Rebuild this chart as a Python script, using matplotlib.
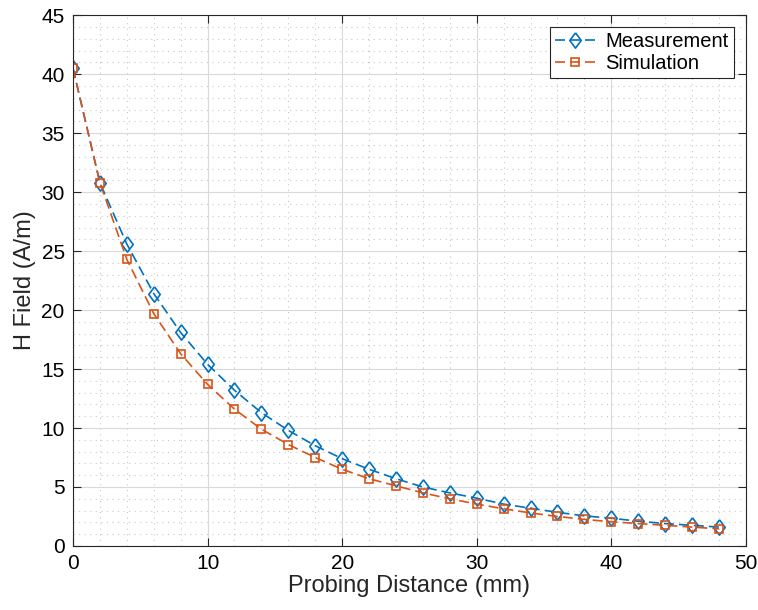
import numpy as np
import matplotlib.pyplot as plt
from matplotlib.ticker import MultipleLocator

plt.rcParams['font.family'] = ['Liberation Sans', 'DejaVu Sans']

distance = [0, 2, 4, 6, 8, 10, 12, 14, 16, 18, 20, 22, 24,
            26, 28, 30, 32, 34, 36, 38, 40, 42, 44, 46, 48]
measurement = [40.5, 30.8, 25.6, 21.4, 18.1, 15.4, 13.2, 11.3, 9.8, 8.5,
               7.4, 6.5, 5.7, 5.0, 4.5, 4.05, 3.55, 3.2, 2.85, 2.55,
               2.35, 2.1, 1.9, 1.75, 1.6]
simulation = [40.5, 30.8, 24.3, 19.7, 16.3, 13.7, 11.6, 9.9, 8.6, 7.5,
              6.5, 5.7, 5.1, 4.5, 4.0, 3.55, 3.15, 2.8, 2.5, 2.25,
              2.05, 1.9, 1.75, 1.6, 1.45]

# matlab-style diamond, a bit taller than wide
diamond = [(0, 1), (0.75, 0), (0, -1), (-0.75, 0), (0, 1)]

fig = plt.figure(figsize=(7.58, 6.10), dpi=100)
ax = fig.add_axes([0.0963, 0.105, 0.8877, 0.870])

ax.plot(distance, measurement, linestyle='--', dashes=(6, 3), color='#0072BD',
        marker=diamond, markersize=11, markerfacecolor='none', markeredgewidth=1.2,
        linewidth=1.2, label='Measurement')
ax.plot(distance, simulation, linestyle='--', dashes=(6, 3), color='#D95319',
        marker='s', markersize=6, markerfacecolor='none', markeredgewidth=1.2,
        linewidth=1.2, label='Simulation')

ax.set_xlim(0, 50)
ax.set_ylim(0, 45)
ax.xaxis.set_major_locator(MultipleLocator(10))
ax.xaxis.set_minor_locator(MultipleLocator(2))
ax.yaxis.set_major_locator(MultipleLocator(5))
ax.yaxis.set_minor_locator(MultipleLocator(1))

ax.grid(which='major', color='#d9d9d9', linewidth=0.8)
ax.grid(which='minor', color='#c8c8c8', linestyle=(0, (1, 4)), linewidth=0.8)
ax.set_axisbelow(True)

ax.tick_params(which='both', direction='in', top=True, right=True,
               labelsize=15, color='#262626', pad=6)
ax.tick_params(which='major', length=6)
ax.tick_params(which='minor', length=0)
for s in ax.spines.values():
    s.set_color('#262626')
    s.set_linewidth(0.8)

ax.set_xlabel('Probing Distance (mm)', fontsize=17, color='#262626', labelpad=1)
ax.set_ylabel('H Field (A/m)', fontsize=17, color='#262626', labelpad=4)

leg = ax.legend(loc='upper right', fontsize=14.5, fancybox=False,
                edgecolor='#262626', framealpha=1, borderaxespad=0.6,
                handlelength=2.0, borderpad=0.25, labelspacing=0.15,
                handletextpad=0.5)
leg.get_frame().set_linewidth(0.8)

fig.savefig('out.png', dpi=100)
